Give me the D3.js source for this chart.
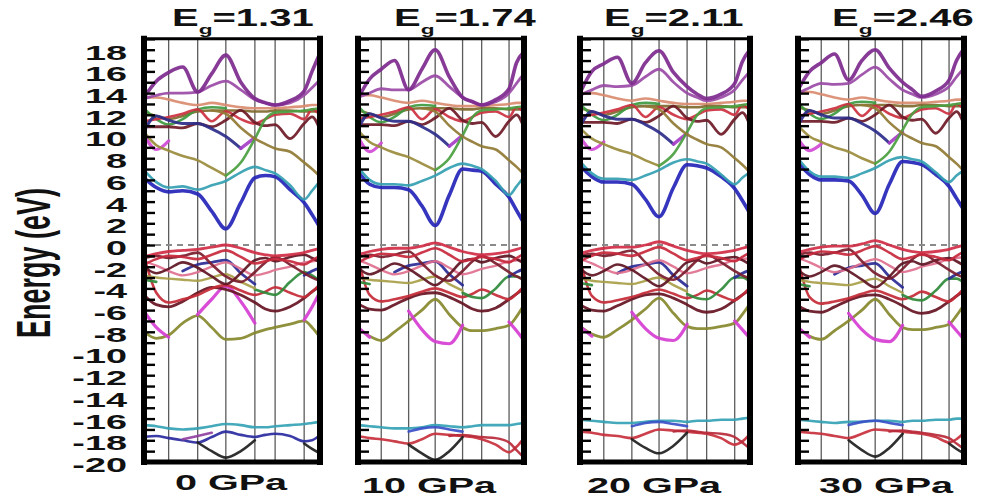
<!DOCTYPE html>
<html>
<head>
<meta charset="utf-8">
<script src="https://cdn.jsdelivr.net/npm/d3@7"></script>
<style>
  body { margin: 0; background: #fff; }
  svg { display: block; }
</style>
</head>
<body>
<svg id="chart" width="981" height="500"></svg>
<script>
// ---- data -------------------------------------------------------------
// k-path sample positions (fraction of the path length) for every band
const kGrid = [0, 0.07, 0.14, 0.22, 0.305, 0.385, 0.465, 0.55, 0.63, 0.69, 0.745, 0.83, 0.91, 0.955, 1];
// high-symmetry points along the path
const kPoints = [0.14, 0.305, 0.465, 0.63, 0.745, 0.91];
// labelled energies on the axis (eV)
const energyTicks = [18, 16, 14, 12, 10, 8, 6, 4, 2, 0, -2, -4, -6, -8, -10, -12, -14, -16, -18, -20];
const pressureLabels = ["0 GPa", "10 GPa", "20 GPa", "30 GPa"];
const gapValues = ["1.31", "1.74", "2.11", "2.46"];

// band energies (eV) at kGrid; null = segment not drawn
const bands0GPa = [
  { band: "salmon",    e: [13.6, 13.6, 13.4, 13.1, 12.9, 13.1, 12.9, 12.7, 12.6, 12.6, 12.6, 12.7, 12.8, 12.9, 12.9] },
  { band: "oliveTop",  e: [12.2, 11.9, 11.6, 11.9, 12.3, 12.4, 12.4, 12.4, 12.3, 12.3, 12.4, 12.4, 12.3, 12.3, 12.3] },
  { band: "greenC1",   e: [12.6, 11.6, 11.1, 11.6, 12.5, 12.7, 12.6, null, null, null, null, null, null, null, null] },
  { band: "redC",      e: [11.4, 11.6, 11.8, 12.1, 12.5, 11.4, 12.3, 11.6, 11.2, 11.6, 12.0, 12.1, 11.6, 12.5, 12.0] },
  { band: "maroonC",   e: [10.9, 10.9, 10.9, 10.8, 11.2, 10.9, 11.5, 12.4, 11.3, 11.0, 11.1, 9.8, 11.2, 11.8, 10.6] },
  { band: "navyC",     e: [10.5, 11.9, 11.5, 11.2, 11.2, 10.7, 10.0, 8.9, null, null, null, null, null, null, null] },
  { band: "violetC",   e: [null, null, null, null, null, null, null, 8.9, 9.9, null, null, null, null, null, null] },
  { band: "magentaC",  e: [10.2, 8.8, 9.6, null, null, null, null, null, null, null, null, null, null, null, null] },
  { band: "khakiC",    e: [10.4, 9.2, 8.7, 8.2, 7.8, 7.1, 6.4, null, null, null, null, null, null, null, null] },
  { band: "greenC2",   e: [null, null, null, null, null, null, 6.4, 7.6, 9.8, 11.6, 12.2, 12.3, 12.4, 12.5, 12.6] },
  { band: "oliveC",    e: [null, null, null, null, null, 12.4, 12.1, 10.8, 9.8, 9.3, 8.9, 8.6, 7.6, 7.0, 6.3] },
  { band: "blueC",     e: [6.2, 5.3, 4.9, 5.0, 4.7, 3.1, 1.5, 3.9, 6.2, 6.4, 6.3, 5.1, 3.9, 2.8, 1.6] },
  { band: "tealC",     e: [6.9, 5.8, 5.3, 5.4, 5.1, 5.5, 5.9, 6.7, 7.2, 6.9, 6.6, 5.5, 4.2, 5.0, 5.9] },
  { band: "purple2",   e: [13.5, 13.8, 14.0, 14.0, 14.1, 14.7, 15.1, 14.3, 13.4, 13.1, 12.9, 13.1, 13.8, 14.5, 15.2] },
  { band: "purple1",   e: [13.6, 15.1, 15.9, 16.4, 14.1, 15.8, 17.5, 15.0, 13.5, 13.1, 12.9, 13.3, 14.2, 16.0, 17.7] },
  { band: "oliveV",    e: [-8.0, -8.6, -8.3, -7.2, -6.5, -7.6, -8.7, -8.6, -8.1, -7.8, -7.6, -7.3, -7.0, -7.6, -8.5] },
  { band: "magentaV",  e: [-6.1, -7.6, -8.5, null, -6.4, -5.0, -3.8, -5.2, -7.2, null, null, null, -6.9, -5.7, -4.3] },
  { band: "maroonWave",e: [-4.6, -5.5, -5.7, -5.2, -4.4, -3.9, -4.1, -4.6, -5.3, -5.9, -6.1, -5.7, -4.9, -4.3, -3.8] },
  { band: "red3",      e: [-1.0, -4.4, -5.3, -5.0, -4.6, -4.0, -3.7, -4.2, -4.6, -4.3, -3.9, -4.4, -4.8, -4.3, -3.6] },
  { band: "greenV",    e: [-3.2, -3.4, null, null, null, null, null, null, -4.1, -4.4, -4.6, -3.4, -2.5, -2.8, -3.3] },
  { band: "khakiV",    e: [-2.8, -3.0, -3.1, -3.2, -3.3, -3.0, -2.7, -3.4, -4.0, null, null, null, null, null, null] },
  { band: "navyV",     e: [null, null, null, -2.4, -1.8, -1.6, -1.4, -2.6, -3.6, null, null, null, -2.8, -2.4, -2.1] },
  { band: "pinkV",     e: [-1.5, -1.9, -2.4, -2.8, -2.5, -2.0, -1.6, -2.2, -2.8, -2.6, -2.3, -2.0, -1.6, -1.5, -1.4] },
  { band: "maroon2",   e: [-2.0, -2.6, -2.2, -1.6, -2.1, -2.9, -3.6, -2.6, -1.4, -1.2, -1.5, -1.1, -0.9, -1.2, -1.6] },
  { band: "maroon1",   e: [-1.2, -1.0, -1.2, -1.0, -0.7, -1.8, -2.9, -3.4, -2.5, -1.6, -1.1, -1.8, -2.6, -3.0, -3.3] },
  { band: "red2",      e: [-1.8, -1.3, -1.0, -1.1, -1.3, -0.9, -0.5, -1.1, -1.7, -1.5, -1.3, -1.5, -1.8, -1.4, -1.0] },
  { band: "red1",      e: [-1.1, -0.8, -0.6, -0.5, -0.4, -0.2, 0.0, -0.3, -0.7, -0.9, -1.0, -0.9, -0.7, -0.5, -0.3] },
  { band: "tealD",     e: [-16.6, -16.7, -16.9, -17.0, -16.9, -16.7, -16.5, -16.6, -16.8, -16.8, -16.7, -16.6, -16.5, -16.4, -16.3] },
  { band: "navyD",     e: [-17.7, -17.6, -17.8, -18.0, -18.2, -17.7, -17.2, -17.5, -17.7, -17.5, -17.4, -17.6, -18.1, -18.0, -17.5] },
  { band: "violetD",   e: [null, null, null, -17.9, -17.6, -17.3, null, null, null, null, null, null, null, null, null] },
  { band: "blackD",    e: [null, null, null, null, -18.2, -19.0, -19.6, -19.0, -18.0, null, null, null, -18.3, -18.8, -19.2] }
];

const bands10GPa = [
  { band: "salmon",    e: [13.8, 13.8, 13.6, 13.3, 13.1, 13.3, 13.1, 12.9, 12.8, 12.8, 12.8, 12.9, 13.0, 13.1, 13.1] },
  { band: "oliveTop",  e: [12.4, 12.1, 11.8, 12.1, 12.5, 12.6, 12.6, 12.6, 12.5, 12.5, 12.6, 12.6, 12.5, 12.5, 12.5] },
  { band: "greenC1",   e: [12.8, 11.8, 11.3, 11.8, 12.7, 12.9, 12.8, null, null, null, null, null, null, null, null] },
  { band: "redC",      e: [11.6, 11.8, 12.0, 12.3, 12.7, 11.6, 12.5, 11.8, 11.4, 11.8, 12.2, 12.3, 11.8, 12.7, 12.2] },
  { band: "maroonC",   e: [11.1, 11.1, 11.1, 11.0, 11.4, 11.1, 11.7, 12.6, 11.5, 11.2, 11.3, 10.0, 11.4, 12.0, 10.8] },
  { band: "navyC",     e: [10.7, 12.1, 11.7, 11.4, 11.4, 10.9, 10.2, 9.1, null, null, null, null, null, null, null] },
  { band: "violetC",   e: [null, null, null, null, null, null, null, 9.1, 10.1, null, null, null, null, null, null] },
  { band: "magentaC",  e: [10.0, 8.6, 9.4, null, null, null, null, null, null, null, null, null, null, null, null] },
  { band: "khakiC",    e: [10.6, 9.5, 9.0, 8.5, 8.1, 7.5, 6.9, null, null, null, null, null, null, null, null] },
  { band: "greenC2",   e: [null, null, null, null, null, null, 6.9, 8.0, 10.1, 11.8, 12.4, 12.5, 12.6, 12.7, 12.8] },
  { band: "oliveC",    e: [null, null, null, null, null, 12.6, 12.3, 11.0, 10.0, 9.5, 9.1, 8.8, 7.8, 7.2, 6.5] },
  { band: "blueC",     e: [6.8, 5.6, 5.3, 5.3, 5.1, 3.6, 1.8, 4.6, 7.0, 6.9, 6.8, 5.6, 4.4, 3.2, 2.0] },
  { band: "tealC",     e: [7.2, 6.0, 5.6, 5.6, 5.5, 5.9, 6.4, 7.1, 7.5, 7.3, 7.0, 5.9, 4.6, 5.4, 6.3] },
  { band: "purple2",   e: [13.6, 14.0, 14.4, 14.3, 14.3, 15.0, 15.6, 14.6, 13.6, 13.2, 12.9, 13.2, 14.0, 14.9, 15.8] },
  { band: "purple1",   e: [13.5, 15.3, 16.2, 17.0, 14.3, 16.2, 18.0, 15.5, 13.6, 13.2, 12.9, 13.4, 14.4, 16.8, 17.8] },
  { band: "oliveV",    e: [-7.6, -8.4, -8.8, -8.0, -7.0, -6.0, -5.0, -6.4, -7.6, -7.9, -7.9, -7.7, -7.4, -6.6, -5.5] },
  { band: "magentaV",  e: [-7.6, -8.5, null, null, -6.1, -7.8, -8.9, -9.1, -7.4, null, null, null, -7.1, -7.9, -8.8] },
  { band: "maroonWave",e: [-5.4, -5.9, -6.0, -5.5, -4.9, -4.5, -4.4, -4.8, -5.4, -5.9, -6.1, -5.8, -5.0, -4.5, -4.0] },
  { band: "red3",      e: [-1.2, -4.6, -5.2, -5.0, -4.7, -4.3, -4.0, -4.4, -4.8, -4.5, -4.1, -4.6, -5.0, -4.5, -3.8] },
  { band: "greenV",    e: [-3.4, -3.6, null, null, null, null, null, null, -4.4, -4.8, -4.9, -4.0, -2.9, -2.9, -3.3] },
  { band: "khakiV",    e: [-3.0, -3.2, -3.3, -3.4, -3.5, -3.2, -2.9, -3.6, -4.2, null, null, null, null, null, null] },
  { band: "navyV",     e: [null, null, null, -2.5, -1.9, -1.7, -1.5, -2.7, -3.7, null, null, null, -2.9, -2.5, -2.2] },
  { band: "pinkV",     e: [-1.4, -1.8, -2.3, -2.7, -2.4, -1.9, -1.5, -2.1, -2.7, -2.5, -2.2, -1.9, -1.5, -1.4, -1.3] },
  { band: "maroon2",   e: [-2.1, -2.7, -2.3, -1.7, -2.2, -3.0, -3.7, -2.7, -1.5, -1.3, -1.6, -1.2, -1.0, -1.3, -1.7] },
  { band: "maroon1",   e: [-1.1, -0.9, -1.1, -0.9, -0.6, -1.7, -2.8, -3.3, -2.4, -1.5, -1.0, -1.7, -2.5, -2.9, -3.2] },
  { band: "red2",      e: [-1.6, -1.1, -0.8, -0.9, -1.1, -0.7, -0.3, -0.9, -1.5, -1.3, -1.1, -1.3, -1.6, -1.2, -0.8] },
  { band: "red1",      e: [-0.9, -0.6, -0.4, -0.3, -0.3, -0.1, 0.2, -0.2, -0.6, -0.8, -0.9, -0.8, -0.6, -0.4, -0.2] },
  { band: "tealD",     e: [-16.6, -16.7, -16.8, -16.9, -16.9, -16.8, -16.6, -16.7, -16.8, -16.7, -16.6, -16.6, -16.6, -16.5, -16.4] },
  { band: "blueD",     e: [null, null, null, null, -17.2, -16.9, -16.8, -17.0, -17.2, null, null, null, null, null, null] },
  { band: "redD",      e: [-17.6, -17.8, -17.9, -18.1, -18.3, -17.9, -17.4, -17.5, -17.6, -17.7, -17.9, -18.4, -19.1, -18.6, -17.8] },
  { band: "redD2",     e: [null, null, null, null, null, null, null, -17.6, -17.5, -17.6, -17.7, -17.8, -18.2, -18.9, -19.6] },
  { band: "blackD",    e: [null, null, null, null, -18.4, -19.2, -19.8, -19.0, -17.7, null, null, null, null, null, null] }
];

const bands20GPa = [
  { band: "salmon",    e: [14.0, 14.0, 13.8, 13.5, 13.3, 13.5, 13.3, 13.1, 13.0, 13.0, 13.0, 13.1, 13.2, 13.3, 13.3] },
  { band: "oliveTop",  e: [12.6, 12.3, 12.0, 12.3, 12.7, 12.8, 12.8, 12.8, 12.7, 12.7, 12.8, 12.8, 12.7, 12.7, 12.7] },
  { band: "greenC1",   e: [13.0, 12.0, 11.5, 12.0, 12.9, 13.1, 13.0, null, null, null, null, null, null, null, null] },
  { band: "redC",      e: [11.8, 12.0, 12.2, 12.5, 12.9, 11.8, 12.7, 12.0, 11.6, 12.0, 12.4, 12.5, 12.0, 12.9, 12.4] },
  { band: "maroonC",   e: [11.3, 11.3, 11.3, 11.2, 11.6, 11.3, 11.9, 12.8, 11.7, 11.4, 11.5, 10.2, 11.6, 12.2, 11.0] },
  { band: "navyC",     e: [10.9, 12.3, 11.9, 11.6, 11.6, 11.1, 10.4, 9.3, null, null, null, null, null, null, null] },
  { band: "violetC",   e: [null, null, null, null, null, null, null, 9.3, 10.3, null, null, null, null, null, null] },
  { band: "magentaC",  e: [10.0, 8.8, 9.5, null, null, null, null, null, null, null, null, null, null, null, null] },
  { band: "khakiC",    e: [10.8, 9.8, 9.3, 8.8, 8.4, 7.8, 7.3, null, null, null, null, null, null, null, null] },
  { band: "greenC2",   e: [null, null, null, null, null, null, 7.3, 8.4, 10.4, 12.0, 12.6, 12.7, 12.8, 12.9, 13.0] },
  { band: "oliveC",    e: [null, null, null, null, null, 12.8, 12.5, 11.2, 10.2, 9.7, 9.3, 9.0, 8.0, 7.4, 6.7] },
  { band: "blueC",     e: [7.3, 6.3, 5.8, 5.8, 5.6, 4.2, 2.6, 5.3, 7.4, 7.3, 7.1, 6.3, 5.2, 4.1, 2.9] },
  { band: "tealC",     e: [7.7, 6.6, 6.1, 6.1, 6.0, 6.4, 6.9, 7.6, 7.9, 7.7, 7.5, 6.5, 5.6, 6.2, 6.7] },
  { band: "purple2",   e: [13.8, 14.3, 14.7, 14.6, 14.7, 15.5, 16.2, 15.0, 14.0, 13.6, 13.3, 13.6, 14.3, 15.2, 16.0] },
  { band: "purple1",   e: [14.0, 16.0, 16.7, 17.3, 14.9, 16.8, 17.9, 15.9, 14.6, 13.9, 13.5, 13.9, 14.9, 16.9, 18.0] },
  { band: "oliveV",    e: [-7.5, -8.2, -8.5, -7.8, -6.9, -5.9, -4.9, -6.3, -7.5, -7.7, -7.7, -7.5, -7.2, -6.4, -5.4] },
  { band: "magentaV",  e: [-7.5, -8.4, null, null, -6.2, -7.7, -8.6, -8.8, -7.3, null, null, null, -7.0, -7.8, -8.6] },
  { band: "maroonWave",e: [-5.5, -6.0, -6.1, -5.6, -5.0, -4.6, -4.5, -4.9, -5.5, -6.0, -6.2, -5.9, -5.1, -4.6, -4.1] },
  { band: "red3",      e: [-1.3, -4.7, -5.3, -5.1, -4.8, -4.4, -4.1, -4.5, -4.9, -4.6, -4.2, -4.7, -5.1, -4.6, -3.9] },
  { band: "greenV",    e: [-3.5, -3.7, null, null, null, null, null, null, -4.5, -4.9, -5.0, -4.1, -3.0, -3.0, -3.4] },
  { band: "khakiV",    e: [-3.1, -3.3, -3.4, -3.5, -3.6, -3.3, -3.0, -3.7, -4.3, null, null, null, null, null, null] },
  { band: "navyV",     e: [null, null, null, -2.6, -2.0, -1.8, -1.6, -2.8, -3.8, null, null, null, -3.0, -2.6, -2.3] },
  { band: "pinkV",     e: [-1.3, -1.7, -2.2, -2.6, -2.3, -1.8, -1.4, -2.0, -2.6, -2.4, -2.1, -1.8, -1.4, -1.3, -1.2] },
  { band: "maroon2",   e: [-2.2, -2.8, -2.4, -1.8, -2.3, -3.1, -3.8, -2.8, -1.6, -1.4, -1.7, -1.3, -1.1, -1.4, -1.8] },
  { band: "maroon1",   e: [-1.0, -0.8, -1.0, -0.8, -0.5, -1.6, -2.7, -3.2, -2.3, -1.4, -0.9, -1.6, -2.4, -2.8, -3.1] },
  { band: "red2",      e: [-1.5, -1.0, -0.7, -0.8, -1.0, -0.6, -0.2, -0.8, -1.4, -1.2, -1.0, -1.2, -1.5, -1.1, -0.7] },
  { band: "red1",      e: [-0.8, -0.5, -0.3, -0.2, -0.2, 0.0, 0.3, -0.1, -0.5, -0.7, -0.8, -0.7, -0.5, -0.3, -0.1] },
  { band: "tealD",     e: [-16.1, -16.2, -16.3, -16.4, -16.4, -16.3, -16.2, -16.2, -16.3, -16.2, -16.2, -16.1, -16.1, -16.0, -15.9] },
  { band: "blueD",     e: [null, null, null, null, -16.7, -16.4, -16.3, -16.5, -16.7, null, null, null, null, null, null] },
  { band: "redD",      e: [-17.2, -17.3, -17.5, -17.6, -17.8, -17.4, -17.0, -17.1, -17.2, -17.3, -17.4, -17.8, -18.4, -18.1, -17.4] },
  { band: "redD2",     e: [null, null, null, null, null, null, null, -17.2, -17.1, -17.2, -17.3, -17.4, -17.7, -18.2, -18.8] },
  { band: "blackD",    e: [null, null, null, null, -17.9, -18.7, -19.2, -18.5, -17.3, null, null, null, null, null, null] }
];

const bands30GPa = [
  { band: "salmon",    e: [14.1, 14.1, 13.9, 13.6, 13.4, 13.6, 13.4, 13.2, 13.1, 13.1, 13.1, 13.2, 13.3, 13.4, 13.4] },
  { band: "oliveTop",  e: [12.7, 12.4, 12.1, 12.4, 12.8, 12.9, 12.9, 12.9, 12.8, 12.8, 12.9, 12.9, 12.8, 12.8, 12.8] },
  { band: "greenC1",   e: [13.1, 12.1, 11.6, 12.1, 13.0, 13.2, 13.1, null, null, null, null, null, null, null, null] },
  { band: "redC",      e: [11.9, 12.1, 12.3, 12.6, 13.0, 11.9, 12.8, 12.1, 11.7, 12.1, 12.5, 12.6, 12.1, 13.0, 12.5] },
  { band: "maroonC",   e: [11.4, 11.4, 11.4, 11.3, 11.7, 11.4, 12.0, 12.9, 11.8, 11.5, 11.6, 10.3, 11.7, 12.3, 11.1] },
  { band: "navyC",     e: [11.0, 12.4, 12.0, 11.7, 11.7, 11.2, 10.5, 9.4, null, null, null, null, null, null, null] },
  { band: "violetC",   e: [null, null, null, null, null, null, null, 9.4, 10.4, null, null, null, null, null, null] },
  { band: "magentaC",  e: [9.8, 8.7, 9.3, null, null, null, null, null, null, null, null, null, null, null, null] },
  { band: "khakiC",    e: [11.0, 10.0, 9.5, 9.0, 8.6, 8.0, 7.5, null, null, null, null, null, null, null, null] },
  { band: "greenC2",   e: [null, null, null, null, null, null, 7.5, 8.6, 10.6, 12.1, 12.7, 12.8, 12.9, 13.0, 13.1] },
  { band: "oliveC",    e: [null, null, null, null, null, 12.9, 12.6, 11.3, 10.3, 9.8, 9.4, 9.1, 8.1, 7.5, 6.8] },
  { band: "blueC",     e: [7.6, 6.5, 6.0, 6.0, 5.9, 4.6, 2.9, 5.6, 7.7, 7.6, 7.4, 6.5, 5.4, 4.3, 3.2] },
  { band: "tealC",     e: [8.0, 6.8, 6.3, 6.3, 6.2, 6.6, 7.1, 7.8, 8.1, 7.9, 7.7, 6.7, 5.8, 6.4, 6.9] },
  { band: "purple2",   e: [14.0, 14.5, 14.9, 14.8, 14.9, 15.7, 16.4, 15.3, 14.3, 13.9, 13.6, 13.9, 14.6, 15.5, 16.3] },
  { band: "purple1",   e: [14.3, 16.0, 16.8, 17.6, 15.2, 17.0, 18.0, 16.3, 15.0, 14.3, 13.7, 14.2, 15.2, 17.0, 18.1] },
  { band: "oliveV",    e: [-7.6, -8.4, -8.7, -7.9, -7.0, -6.0, -5.0, -6.4, -7.6, -7.8, -7.8, -7.6, -7.3, -6.5, -5.5] },
  { band: "magentaV",  e: [-7.6, -8.5, null, null, -6.3, -7.8, -8.7, -8.9, -7.4, null, null, null, -7.1, -7.9, -8.7] },
  { band: "maroonWave",e: [-5.6, -6.1, -6.2, -5.7, -5.1, -4.7, -4.6, -5.0, -5.6, -6.1, -6.3, -6.0, -5.2, -4.7, -4.2] },
  { band: "red3",      e: [-1.4, -4.8, -5.4, -5.2, -4.9, -4.5, -4.2, -4.6, -5.0, -4.7, -4.3, -4.8, -5.2, -4.7, -4.0] },
  { band: "greenV",    e: [-3.6, -3.8, null, null, null, null, null, null, -4.6, -5.0, -5.1, -4.2, -3.1, -3.1, -3.5] },
  { band: "khakiV",    e: [-3.2, -3.4, -3.5, -3.6, -3.7, -3.4, -3.1, -3.8, -4.4, null, null, null, null, null, null] },
  { band: "navyV",     e: [null, null, null, -2.7, -2.1, -1.9, -1.7, -2.9, -3.9, null, null, null, -3.1, -2.7, -2.4] },
  { band: "pinkV",     e: [-1.2, -1.6, -2.1, -2.5, -2.2, -1.7, -1.3, -1.9, -2.5, -2.3, -2.0, -1.7, -1.3, -1.2, -1.1] },
  { band: "maroon2",   e: [-2.3, -2.9, -2.5, -1.9, -2.4, -3.2, -3.9, -2.9, -1.7, -1.5, -1.8, -1.4, -1.2, -1.5, -1.9] },
  { band: "maroon1",   e: [-0.9, -0.7, -0.9, -0.7, -0.4, -1.5, -2.6, -3.1, -2.2, -1.3, -0.8, -1.5, -2.3, -2.7, -3.0] },
  { band: "red2",      e: [-1.4, -0.9, -0.6, -0.7, -0.9, -0.5, -0.1, -0.7, -1.3, -1.1, -0.9, -1.1, -1.4, -1.0, -0.6] },
  { band: "red1",      e: [-0.7, -0.4, -0.2, -0.1, -0.1, 0.1, 0.4, 0.0, -0.4, -0.6, -0.7, -0.6, -0.4, -0.2, 0.0] },
  { band: "tealD",     e: [-16.1, -16.2, -16.3, -16.4, -16.3, -16.3, -16.2, -16.2, -16.3, -16.2, -16.2, -16.1, -16.1, -16.0, -16.0] },
  { band: "blueD",     e: [null, null, null, null, -16.6, -16.3, -16.2, -16.4, -16.6, null, null, null, null, null, null] },
  { band: "redD",      e: [-17.2, -17.3, -17.4, -17.6, -17.8, -17.4, -17.0, -17.1, -17.2, -17.3, -17.4, -17.7, -18.2, -17.9, -17.3] },
  { band: "redD2",     e: [null, null, null, null, null, null, null, -17.2, -17.1, -17.2, -17.3, -17.5, -17.8, -18.3, -18.8] },
  { band: "blackD",    e: [null, null, null, null, -18.0, -18.9, -19.5, -18.7, -17.4, null, null, null, -18.3, -18.8, -19.2] }
];

const bandSets = [bands0GPa, bands10GPa, bands20GPa, bands30GPa];

// ---- styles -----------------------------------------------------------
const bandStyle = {
  salmon:     { color: "#d98c70", width: 2.6 },
  oliveTop:   { color: "#7f6a2e", width: 2.6 },
  greenC1:    { color: "#3e9a40", width: 2.6 },
  redC:       { color: "#cc3040", width: 2.6 },
  maroonC:    { color: "#6e1a26", width: 2.8 },
  navyC:      { color: "#2c2c8a", width: 3.0 },
  violetC:    { color: "#a63ec8", width: 3.4 },
  magentaC:   { color: "#d04ad4", width: 3.2 },
  khakiC:     { color: "#9a8c3c", width: 2.6 },
  greenC2:    { color: "#4aa040", width: 2.6 },
  oliveC:     { color: "#907a34", width: 2.6 },
  blueC:      { color: "#2424b8", width: 3.6 },
  tealC:      { color: "#34a0b2", width: 2.6 },
  purple2:    { color: "#9a4aa6", width: 2.8 },
  purple1:    { color: "#7d2a8e", width: 3.6 },
  oliveV:     { color: "#86882c", width: 2.8 },
  magentaV:   { color: "#d63ed2", width: 3.2 },
  maroonWave: { color: "#661422", width: 2.8 },
  red3:       { color: "#c42a36", width: 2.6 },
  greenV:     { color: "#2e8a3a", width: 2.6 },
  khakiV:     { color: "#a89e48", width: 2.4 },
  navyV:      { color: "#2a2a96", width: 2.8 },
  pinkV:      { color: "#e0708e", width: 2.4 },
  maroon2:    { color: "#5e1422", width: 2.6 },
  maroon1:    { color: "#7a1c2c", width: 2.6 },
  red2:       { color: "#c8283c", width: 2.6 },
  red1:       { color: "#d02c44", width: 2.8 },
  tealD:      { color: "#34a2b4", width: 2.6 },
  navyD:      { color: "#2a2aa0", width: 2.6 },
  blueD:      { color: "#3a50c8", width: 2.6 },
  violetD:    { color: "#9040a0", width: 2.6 },
  redD:       { color: "#c8303c", width: 2.6 },
  redD2:      { color: "#b82a3a", width: 2.4 },
  blackD:     { color: "#1e1e1e", width: 2.6 }
};

// ---- layout -----------------------------------------------------------
const panelFrames = [
  { x0: 141, x1: 323, titleX: 172, labelX: 231, labelY: 490 },
  { x0: 355, x1: 527, titleX: 394, labelX: 429, labelY: 493 },
  { x0: 577, x1: 753, titleX: 604, labelX: 654, labelY: 493 },
  { x0: 795, x1: 967, titleX: 832, labelX: 886, labelY: 493 }
];
const stretch = 1.8;          // horizontal stretch applied to the text
const titleStretch = 1.74;
const fontFamily = "'Liberation Sans', Arial, Helvetica, sans-serif";

const svg = d3.select("#chart");
const y = d3.scaleLinear().domain([-20, 19]).range([462, 38.85]);

panelFrames.forEach((pf, i) => {
  const x = d3.scaleLinear().domain([0, 1]).range([pf.x0 + 3, pf.x1 - 3]);
  const g = svg.append("g");
  const [xl, xr] = x.range();
  const yt = y(19), yb = y(-20);

  const clipId = "clip" + i;
  g.append("clipPath").attr("id", clipId)
    .append("rect").attr("x", xl).attr("y", yt).attr("width", xr - xl).attr("height", yb - yt);

  // high-symmetry lines
  g.append("g").selectAll("line").data(kPoints).join("line")
    .attr("x1", d => x(d)).attr("x2", d => x(d))
    .attr("y1", yt).attr("y2", yb)
    .attr("stroke", "#5c5c5c").attr("stroke-width", 1.3);

  // valence band maximum reference line
  g.append("line")
    .attr("x1", xl).attr("x2", xr).attr("y1", y(0)).attr("y2", y(0))
    .attr("stroke", "#8a8a8a").attr("stroke-width", 1.8)
    .attr("stroke-dasharray", "6,5");

  // bands
  const line = d3.line()
    .defined(d => d[1] != null)
    .x(d => x(d[0])).y(d => y(d[1]))
    .curve(d3.curveMonotoneX);

  g.append("g").attr("clip-path", `url(#${clipId})`)
    .selectAll("path").data(bandSets[i]).join("path")
    .attr("d", b => line(kGrid.map((k, j) => [k, b.e[j]])))
    .attr("fill", "none")
    .attr("stroke", b => bandStyle[b.band].color)
    .attr("stroke-width", b => bandStyle[b.band].width)
    .attr("stroke-linejoin", "round")
    .attr("stroke-linecap", "round")
    .attr("stroke-opacity", 0.92);

  // inward ticks every 1 eV
  const tickAxis = g.append("g")
    .attr("transform", `translate(${xl + 3},0)`)
    .call(d3.axisRight(y).ticks(40).tickSize(8).tickSizeOuter(0).tickFormat(""));
  tickAxis.select(".domain").remove();
  tickAxis.selectAll(".tick line").attr("stroke", "#000").attr("stroke-width", 2.4);

  // frame
  const frame = g.append("g").attr("stroke", "#000").attr("stroke-linecap", "square");
  frame.append("line").attr("x1", xl).attr("x2", xr).attr("y1", yt).attr("y2", yt).attr("stroke-width", 3);
  frame.append("line").attr("x1", xl).attr("x2", xr).attr("y1", yb).attr("y2", yb).attr("stroke-width", 5);
  frame.append("line").attr("x1", xl).attr("x2", xl).attr("y1", yt).attr("y2", yb).attr("stroke-width", 6);
  frame.append("line").attr("x1", xr).attr("x2", xr).attr("y1", yt).attr("y2", yb).attr("stroke-width", 6);

  // band gap title
  const title = svg.append("text")
    .attr("transform", `translate(${pf.titleX},26) scale(${titleStretch},1)`)
    .attr("font-family", fontFamily).attr("font-weight", "bold")
    .attr("font-size", 23).attr("fill", "#111");
  title.append("tspan").text("E");
  title.append("tspan").attr("font-size", 13).attr("dy", 8).text("g");
  title.append("tspan").attr("dy", -8).text("=" + gapValues[i]);

  // pressure label
  svg.append("text")
    .attr("transform", `translate(${pf.labelX},${pf.labelY}) scale(${stretch},1)`)
    .attr("text-anchor", "middle")
    .attr("font-family", fontFamily).attr("font-weight", "bold")
    .attr("font-size", 22).attr("fill", "#111")
    .text(pressureLabels[i]);
});

// energy labels on the first panel
const labelAxis = svg.append("g")
  .attr("transform", "translate(127,0)")
  .call(d3.axisLeft(y).tickValues(energyTicks).tickSize(0).tickPadding(0).tickFormat(d => String(d)));
labelAxis.select(".domain").remove();
labelAxis.selectAll(".tick text")
  .attr("x", 0).attr("dy", "0.45em")
  .attr("transform", `scale(${stretch},1)`)
  .attr("font-family", fontFamily).attr("font-weight", "bold")
  .attr("font-size", 21).attr("fill", "#111");

// axis title
svg.append("text")
  .attr("transform", `translate(50,263) scale(${stretch},1) rotate(-90)`)
  .attr("text-anchor", "middle")
  .attr("font-family", fontFamily).attr("font-weight", "bold")
  .attr("font-size", 27).attr("fill", "#111")
  .text("Energy (eV)");
</script>
</body>
</html>
